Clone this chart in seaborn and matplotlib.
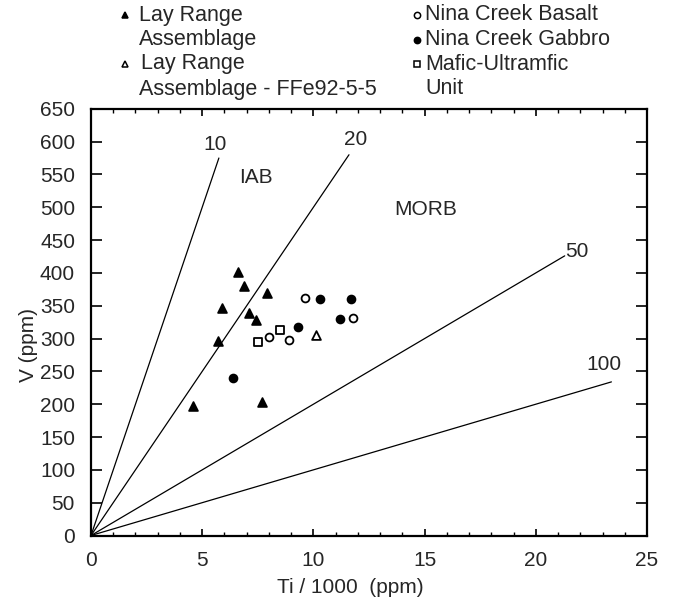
import numpy as np
import pandas as pd
import seaborn as sns
import matplotlib.pyplot as plt
from matplotlib.lines import Line2D
from matplotlib.ticker import MultipleLocator

# Ti/1000 (ppm) and V (ppm) for each sample group
lay_ti = [6.6, 6.9, 7.9, 5.9, 7.1, 7.4, 5.7, 4.6, 7.7]
lay_v = [402, 380, 369, 346, 339, 329, 296, 198, 204]

ffe_ti = [10.1]
ffe_v = [306]

basalt_ti = [9.6, 8.0, 8.9, 11.8]
basalt_v = [362, 302, 298, 331]

gabbro_ti = [10.3, 11.7, 11.2, 9.3, 6.4]
gabbro_v = [361, 360, 330, 318, 240]

mafic_ti = [7.5, 8.5]
mafic_v = [295, 313]

# Ti/V reference lines
ratio_labels = ["10", "20", "50", "100"]
ratio_values = [10, 20, 50, 100]
ratio_end_ti = [5.75, 11.6, 21.3, 23.4]

field_labels = ["IAB", "MORB"]

FONT = 15
W, H = 677, 598

sns.set_style("ticks")
plt.rcParams["font.family"] = ["Liberation Sans", "DejaVu Sans"]
plt.rcParams["font.size"] = FONT

fig = plt.figure(figsize=(W / 100, H / 100), dpi=100)
ax = fig.add_axes([91 / W, 1 - 535.5 / H, (647 - 91) / W, (535.5 - 108.8) / H])

# reference lines from the origin
rows = []
for lab, r, xe in zip(ratio_labels, ratio_values, ratio_end_ti):
    rows.append({"ratio": lab, "ti": 0.0, "v": 0.0})
    rows.append({"ratio": lab, "ti": xe, "v": xe * 1000 / r})
lines_df = pd.DataFrame(rows)
sns.lineplot(data=lines_df, x="ti", y="v", units="ratio", estimator=None,
             color="black", lw=0.9, ax=ax, sort=False)

label_pos = {"10": (5.56, 595), "20": (11.9, 603), "50": (21.84, 432), "100": (23.05, 261)}
for lab in ratio_labels:
    ax.text(*label_pos[lab], lab, ha="center", va="center", fontsize=FONT)

field_pos = {"IAB": (7.43, 546), "MORB": (15.05, 496)}
for lab in field_labels:
    ax.text(*field_pos[lab], lab, ha="center", va="center", fontsize=FONT)

groups = [
    (lay_ti, lay_v, "^", "black", 40),
    (ffe_ti, ffe_v, "^", "white", 40),
    (basalt_ti, basalt_v, "o", "white", 32),
    (gabbro_ti, gabbro_v, "o", "black", 32),
    (mafic_ti, mafic_v, "s", "white", 28),
]
for xs, ys, m, fc, s in groups:
    sns.scatterplot(x=xs, y=ys, marker=m, s=s, facecolor=fc, edgecolor="black",
                    linewidth=1.3, ax=ax, zorder=3)

ax.set_xlim(0, 25)
ax.set_ylim(0, 650)
ax.xaxis.set_major_locator(MultipleLocator(5))
ax.xaxis.set_minor_locator(MultipleLocator(1))
ax.yaxis.set_major_locator(MultipleLocator(50))
ax.tick_params(which="both", direction="in", top=True, right=True,
               color="black", labelsize=FONT, pad=11.5)
ax.tick_params(axis="x", which="major", length=5, width=1.2)
ax.tick_params(axis="x", which="minor", length=3, width=1.0)
ax.tick_params(axis="y", which="major", length=8, width=1.2)
for sp in ax.spines.values():
    sp.set_linewidth(1.6)
    sp.set_color("black")

ax.set_xlabel("Ti / 1000  (ppm)", fontsize=FONT)
ax.set_ylabel("V (ppm)", fontsize=FONT)
ax.xaxis.set_label_coords(0.466, -0.10)
ax.yaxis.set_label_coords(-0.095, 0.446)

# legend drawn in figure pixels
def fx(px):
    return px / W

def fy(py):
    return 1 - py / H

LEG_FONT = 15.5
rows_y = [15, 39.5, 64, 89]
legend_items = [
    ((125, rows_y[0]), "^", "black", [(139, rows_y[0], "Lay Range"), (139, rows_y[1], "Assemblage")]),
    ((125, rows_y[2]), "^", "white", [(141, rows_y[2], "Lay Range"), (139, rows_y[3], "Assemblage - FFe92-5-5")]),
    ((417.5, rows_y[0]), "o", "white", [(425, rows_y[0], "Nina Creek Basalt")]),
    ((417.5, rows_y[1]), "o", "black", [(425, rows_y[1], "Nina Creek Gabbro")]),
    ((417.5, rows_y[2]), "s", "white", [(425, rows_y[2], "Mafic-Ultramfic"), (425, rows_y[3], "Unit")]),
]
for (mx, my), m, fc, texts in legend_items:
    fig.add_artist(Line2D([fx(mx)], [fy(my)], transform=fig.transFigure, marker=m,
                          markersize=4.5, markerfacecolor=fc, markeredgecolor="black",
                          markeredgewidth=1.1, linestyle="none"))
    for tx, ty, t in texts:
        fig.text(fx(tx), fy(ty), t, ha="left", va="center", fontsize=LEG_FONT)

fig.savefig("out.png", dpi=100)
